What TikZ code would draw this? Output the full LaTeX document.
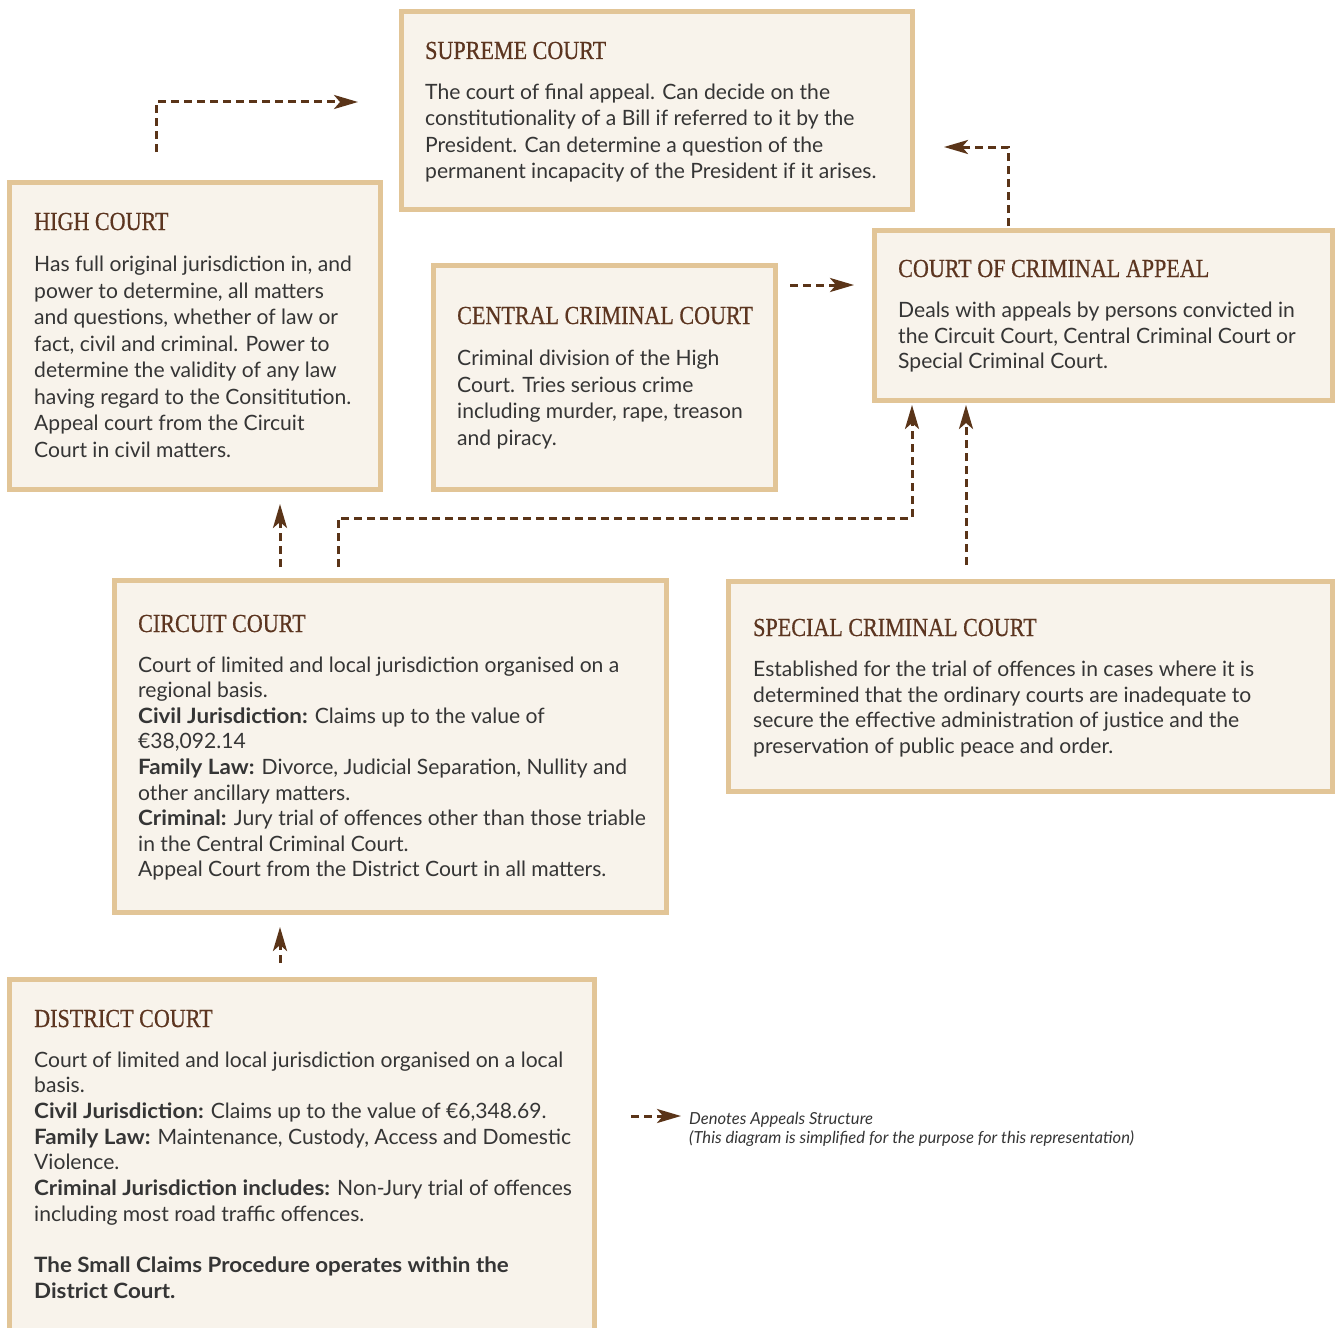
\documentclass[tikz,border=0pt]{standalone}
\usepackage{fontspec}
\setmainfont{Lato}[BoldFeatures={FakeStretch=1.06}]
\newfontfamily\titlefont[FakeStretch=0.85,FakeBold=0.5]{Liberation Serif}
\usetikzlibrary{arrows.meta}
\definecolor{boxfill}{HTML}{F8F3EB}
\definecolor{boxline}{HTML}{E2C597}
\definecolor{titlecol}{HTML}{5C3520}
\definecolor{bodycol}{HTML}{353535}
\definecolor{arrowcol}{HTML}{5A3418}
\tikzset{
  courtbox/.style={draw=boxline, fill=boxfill, line width=5pt, rectangle, inner sep=0pt},
  courttitle/.style={anchor=base west, inner sep=0pt, text=titlecol, font=\titlefont\fontsize{26}{30}\selectfont},
  courtbody/.style={anchor=base west, inner sep=0pt, text=bodycol, align=left, font=\fontsize{21.1}{#1}\selectfont},
  appeal/.style={draw=arrowcol, line width=3pt, dash pattern=on 8pt off 5pt, -{Stealth[length=24pt,width=14pt,inset=6pt]}},
  legendtext/.style={anchor=base west, inner sep=0pt, text=bodycol, align=left, font=\itshape\fontsize{16.6}{19}\selectfont}
}
\begin{document}
\begin{tikzpicture}[x=1pt,y=-1pt]
\useasboundingbox (0,0) rectangle (1335,1327);
% boxes
\node[courtbox, minimum width=511pt, minimum height=198pt] (sup) at (657,110.5) {};
\node[courtbox, minimum width=371pt, minimum height=307pt] (high) at (195,336) {};
\node[courtbox, minimum width=342pt, minimum height=224pt] (ccc) at (604.5,377.5) {};
\node[courtbox, minimum width=458pt, minimum height=170pt] (cca) at (1103.5,315.5) {};
\node[courtbox, minimum width=552pt, minimum height=332pt] (circ) at (390.5,746.5) {};
\node[courtbox, minimum width=604pt, minimum height=210pt] (scc) at (1030.5,686.5) {};
\node[courtbox, minimum width=585pt, minimum height=358pt] (dist) at (302,1158.5) {};
% titles
\node[courttitle] (sup-title) at (425,59) {SUPREME COURT};
\node[courttitle] (high-title) at (34,230) {HIGH COURT};
\node[courttitle] (ccc-title) at (457,324) {CENTRAL CRIMINAL COURT};
\node[courttitle] (cca-title) at (898,277) {COURT OF CRIMINAL APPEAL};
\node[courttitle] (circ-title) at (138,632) {CIRCUIT COURT};
\node[courttitle] (scc-title) at (753,636) {SPECIAL CRIMINAL COURT};
\node[courttitle] (dist-title) at (34,1027) {DISTRICT COURT};
% bodies (anchor at baseline of last line)
\node[courtbody=26] (sup-body) at (425,178) {The court of final appeal. Can decide on the\\constitutionality of a Bill if referred to it by the\\President. Can determine a question of the\\permanent incapacity of the President if it arises.};
\node[courtbody=26.57] (high-body) at (34,457.5) {Has full original jurisdiction in, and\\power to determine, all matters\\and questions, whether of law or\\fact, civil and criminal. Power to\\determine the validity of any law\\having regard to the Consititution.\\Appeal court from the Circuit\\Court in civil matters.};
\node[courtbody=26.7] (ccc-body) at (457,445.5) {Criminal division of the High\\Court. Tries serious crime\\including murder, rape, treason\\and piracy.};
\node[courtbody=25.5] (cca-body) at (898,368.5) {Deals with appeals by persons convicted in\\the Circuit Court, Central Criminal Court or\\Special Criminal Court.};
\node[courtbody=25.6] (circ-body) at (138,876.8) {Court of limited and local jurisdiction organised on a\\regional basis.\\\textbf{Civil Jurisdiction:} Claims up to the value of\\€38,092.14\\\textbf{Family Law:} Divorce, Judicial Separation, Nullity and\\other ancillary matters.\\\textbf{Criminal:} Jury trial of offences other than those triable\\in the Central Criminal Court.\\Appeal Court from the District Court in all matters.};
\node[courtbody=25.7] (scc-body) at (753,753.6) {Established for the trial of offences in cases where it is\\determined that the ordinary courts are inadequate to\\secure the effective administration of justice and the\\preservation of public peace and order.};
\node[courtbody=25.7] (dist-body) at (34,1298.3) {Court of limited and local jurisdiction organised on a local\\basis.\\\textbf{Civil Jurisdiction:} Claims up to the value of €6,348.69.\\\textbf{Family Law:} Maintenance, Custody, Access and Domestic\\Violence.\\\textbf{Criminal Jurisdiction includes:} Non-Jury trial of offences\\including most road traffic offences.\\[25.7pt]\textbf{The Small Claims Procedure operates within the}\\\textbf{District Court.}};
% connector ends
\coordinate (high-out) at (156,152);
\coordinate (high-turn) at (156,102);
\coordinate (sup-in-left) at (358,102);
\coordinate (cca-out-top) at (1008,226);
\coordinate (cca-turn) at (1008,147);
\coordinate (sup-in-right) at (944,147);
\coordinate (ccc-out) at (790,285);
\coordinate (cca-in-left) at (854,285);
\coordinate (circ-out-a) at (280,567);
\coordinate (high-in) at (280,504);
\coordinate (circ-out-b) at (338,567);
\coordinate (circ-turn-a) at (338,518);
\coordinate (circ-turn-b) at (912,518);
\coordinate (cca-in-a) at (912,405);
\coordinate (scc-out) at (966,565);
\coordinate (cca-in-b) at (966,405);
\coordinate (dist-out) at (280,963);
\coordinate (circ-in) at (280,927);
\coordinate (leg-a) at (631,1116);
\coordinate (leg-b) at (681,1116);
% connectors
\draw[appeal] (high-out) -- (high-turn) -- (sup-in-left);
\draw[appeal] (cca-out-top) -- (cca-turn) -- (sup-in-right);
\draw[appeal] (ccc-out) -- (cca-in-left);
\draw[appeal] (circ-out-a) -- (high-in);
\draw[appeal] (circ-out-b) -- (circ-turn-a) -- (circ-turn-b) -- (cca-in-a);
\draw[appeal] (scc-out) -- (cca-in-b);
\draw[appeal] (dist-out) -- (circ-in);
\draw[appeal] (leg-a) -- (leg-b);
% legend
\node[legendtext] (legend) at (689,1143) {Denotes Appeals Structure\\(This diagram is simplified for the purpose for this representation)};
\end{tikzpicture}
\end{document}
